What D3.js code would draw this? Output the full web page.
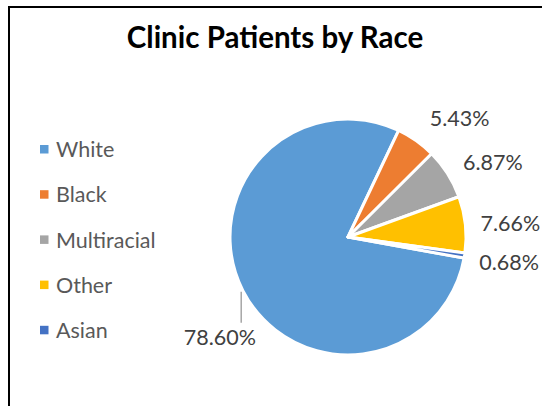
<!DOCTYPE html>
<html>
<head>
<meta charset="utf-8">
<script src="https://cdn.jsdelivr.net/npm/d3@7"></script>
<style>
  body { margin: 0; background: #fff; }
  text { font-family: Lato, "Open Sans", sans-serif; }
</style>
</head>
<body>
<script>
const races = ["White", "Black", "Multiracial", "Other", "Asian"];
const shares = [78.60, 5.43, 6.87, 7.66, 0.68];
const labels = ["78.60%", "5.43%", "6.87%", "7.66%", "0.68%"];
const colors = ["#5b9bd5", "#ed7d31", "#a5a5a5", "#ffc000", "#4472c4"];

// excel nudged a few labels off the slice middle (degrees)
const labelNudge = [-11, 7.9, 5.1, 1.2, -0.3];

const w = 542, h = 406;
const cx = 348, cy = 237, r = 118;
const labelR = 163;

const svg = d3.select("body").append("svg")
  .attr("width", w)
  .attr("height", h);

svg.append("rect")
  .attr("width", w).attr("height", h)
  .attr("fill", "#fff");

// chart frame, runs off the right and bottom edge
svg.append("rect")
  .attr("x", 9).attr("y", 7)
  .attr("width", 600).attr("height", 500)
  .attr("fill", "none")
  .attr("stroke", "#000")
  .attr("stroke-width", 2);

svg.append("text")
  .attr("x", 275).attr("y", 48)
  .attr("text-anchor", "middle")
  .style("font-weight", "bold")
  .style("font-size", "29.5px")
  .attr("fill", "#000")
  .text("Clinic Patients by Race");

const startA = 100.3 * Math.PI / 180;
const pie = d3.pie().sort(null)
  .startAngle(startA)
  .endAngle(startA + 2 * Math.PI);
const arcs = pie(shares);

const arc = d3.arc().innerRadius(0).outerRadius(r);

const g = svg.append("g").attr("transform", "translate(" + cx + "," + cy + ")");

g.selectAll("path")
  .data(arcs)
  .enter()
  .append("path")
  .attr("d", arc)
  .attr("fill", (d, i) => colors[i])
  .attr("stroke", "#fff")
  .attr("stroke-width", 3)
  .attr("stroke-linejoin", "round");

const mid = d => (d.startAngle + d.endAngle) / 2;

g.selectAll(".lbl")
  .data(arcs)
  .enter()
  .append("text")
  .attr("class", "lbl")
  .attr("x", (d, i) => labelR * Math.sin(mid(d) + labelNudge[i] * Math.PI / 180))
  .attr("y", (d, i) => -labelR * Math.cos(mid(d) + labelNudge[i] * Math.PI / 180))
  .attr("dy", "0.36em")
  .attr("text-anchor", "middle")
  .style("font-size", "21.5px")
  .attr("fill", "#404040")
  .text((d, i) => labels[i]);

// leader line for the big slice
const big = arcs[0];
const lx = (r + 2) * Math.sin(mid(big));
const ly = -(r + 2) * Math.cos(mid(big));
const ty = -labelR * Math.cos(mid(big) + labelNudge[0] * Math.PI / 180);
g.append("line")
  .attr("x1", lx).attr("y1", ly)
  .attr("x2", lx).attr("y2", ty - 15)
  .attr("stroke", "#a6a6a6")
  .attr("stroke-width", 1.5);

// legend
const legend = svg.selectAll(".legend")
  .data(races)
  .enter()
  .append("g")
  .attr("class", "legend")
  .attr("transform", (d, i) => "translate(40," + (149.5 + i * 45.2) + ")");

legend.append("rect")
  .attr("x", 0).attr("y", -4.5)
  .attr("width", 8.5).attr("height", 8.5)
  .attr("fill", (d, i) => colors[i]);

legend.append("text")
  .attr("x", 16)
  .attr("dy", "0.36em")
  .style("font-size", "21.5px")
  .attr("fill", "#595959")
  .text(d => d);
</script>
</body>
</html>
